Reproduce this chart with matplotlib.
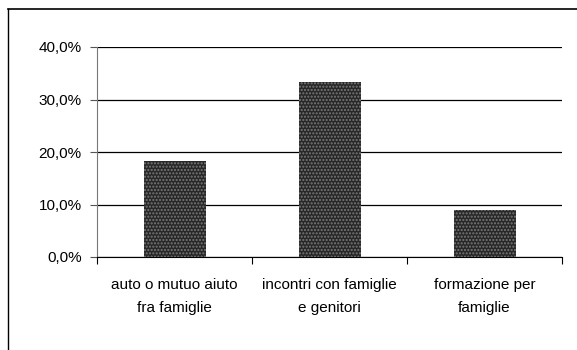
import matplotlib.pyplot as plt
from matplotlib.lines import Line2D

categories = ["auto o mutuo aiuto\nfra famiglie", "incontri con famiglie\ne genitori", "formazione per\nfamiglie"]
values = [18.2, 33.3, 9.0]
yticks = [0, 10, 20, 30, 40]
ytick_labels = ["0,0%", "10,0%", "20,0%", "30,0%", "40,0%"]

plt.rcParams['font.family'] = ['Liberation Sans', 'DejaVu Sans']

fig = plt.figure(figsize=(5.77, 3.5), dpi=100)
ax = fig.add_axes([97/577, 1 - 257/350, 465/577, 210/350])

x = range(len(categories))
ax.bar(x, values, width=0.4, color='#282828', edgecolor='#7a7a7a', hatch='.....', linewidth=0, zorder=3)

ax.set_xlim(-0.5, 2.5)
ax.set_ylim(0, 40)
ax.set_yticks(yticks)
ax.set_yticklabels(ytick_labels, fontsize=11)
# category separators as major ticks, labels on minor ticks
ax.set_xticks([-0.5, 0.5, 1.5, 2.5], minor=False)
ax.set_xticklabels([])
ax.set_xticks(list(x), minor=True)
ax.set_xticklabels(categories, minor=True, fontsize=11, linespacing=1.85)
ax.tick_params(axis='x', which='minor', length=0, pad=15)
ax.tick_params(axis='x', which='major', length=5, direction='out', color='black')
ax.tick_params(axis='y', length=5, direction='out', pad=6, color='#555555')

ax.grid(axis='y', color='black', linewidth=0.9, zorder=0)
ax.spines['top'].set_visible(False)
ax.spines['right'].set_visible(False)
ax.spines['left'].set_color('#777777')
ax.spines['bottom'].set_color('black')

# outer chart-area frame
fig.add_artist(Line2D([8/577, 1], [1 - 9/350, 1 - 9/350], color='black', linewidth=1.2))
fig.add_artist(Line2D([8/577, 8/577], [0, 1 - 9/350], color='black', linewidth=1))

fig.savefig("out.png", dpi=100)
